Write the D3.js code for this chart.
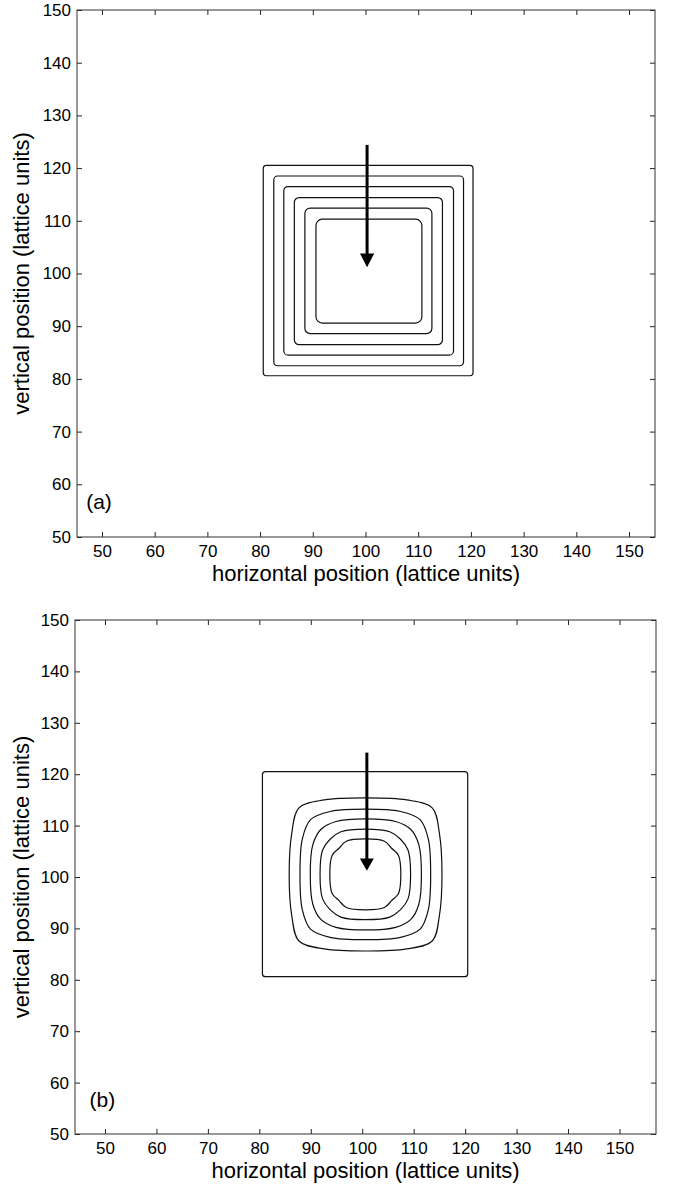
<!DOCTYPE html>
<html>
<head>
<meta charset="utf-8">
<script src="https://cdnjs.cloudflare.com/ajax/libs/d3/7.8.5/d3.min.js"></script>
<style>
body { margin: 0; background: #fff; }
text { font-family: "Liberation Sans", Arial, sans-serif; fill: #000; }
</style>
</head>
<body>
<div id="chart"></div>
<script>
// tick values (both panels)
var xTicks = [50, 60, 70, 80, 90, 100, 110, 120, 130, 140, 150];
var yTicks = [50, 60, 70, 80, 90, 100, 110, 120, 130, 140, 150];

// panel (a): nested rounded squares (lattice units)
var squareLeft   = [80.6, 82.6, 84.5, 86.5, 88.5, 90.6];
var squareRight  = [120.4, 118.6, 116.7, 114.6, 112.6, 110.7];
var squareBottom = [80.6, 82.5, 84.5, 86.5, 88.6, 90.6];
var squareTop    = [120.5, 118.5, 116.5, 114.4, 112.4, 110.3];
var squareRadius = [0.6, 0.7, 0.8, 0.9, 1.0, 1.2];

// panel (b): initial square plus relaxed contours
var frameB = [80.6, 120.5, 80.6, 120.5, 0.6];
var contour1 = [[115.5,100.5],[115.0,108.5],[113.6,113.45],[108.65,115.0],[100.65,115.4],[92.65,115.0],[87.7,113.45],[86.3,108.5],
                [85.8,100.5],[86.3,92.5],[87.7,87.55],[92.65,86.0],[100.65,85.6],[108.65,86.0],[113.6,87.55],[115.0,92.5]];
var contour2 = [[113.3,100.5],[112.85,107.35],[111.25,111.15],[107.45,112.75],[100.6,113.2],[93.75,112.75],[89.95,111.15],[88.35,107.35],
                [87.9,100.5],[88.35,93.65],[89.95,89.85],[93.75,88.25],[100.6,87.8],[107.45,88.25],[111.25,89.85],[112.85,93.65]];
var contour3 = [[111.5,100.5],[111.0,106.3],[109.45,109.25],[106.5,110.8],[100.7,111.3],[94.9,110.8],[91.95,109.25],[90.4,106.3],
                [89.9,100.5],[90.4,94.7],[91.95,91.75],[94.9,90.2],[100.7,89.7],[106.5,90.2],[109.45,91.75],[111.0,94.7]];
var contour4 = [[109.4,100.5],[108.9,105.25],[107.45,107.35],[105.35,108.8],[100.6,109.3],[95.85,108.8],[93.75,107.35],[92.3,105.25],
                [91.8,100.5],[92.3,95.75],[93.75,93.65],[95.85,92.2],[100.6,91.7],[105.35,92.2],[107.45,93.65],[108.9,95.75]];
var contour5 = [[107.5,100.5],[107.05,104.2],[105.7,105.6],[104.3,106.95],[100.6,107.4],[96.9,106.95],[95.5,105.6],[94.15,104.2],
                [93.7,100.5],[94.15,96.8],[95.5,95.4],[96.9,94.05],[100.6,93.6],[104.3,94.05],[105.7,95.4],[107.05,96.8]];

// arrows: x, start, head base, tip
var arrowX    = [100.3, 100.9];
var arrowTop  = [124.4, 124.2];
var arrowBase = [103.8, 103.6];
var arrowTip  = [101.2, 101.2];

var panelLabels = ["(a)", "(b)"];

var width = 675, height = 1184;

var svg = d3.select("#chart")
            .append("svg")
            .attr("width", width)
            .attr("height", height)
            .style("background", "#fff");

// panel boxes in pixels
var panels = [
    {left: 77, right: 655, top: 10, bottom: 537, xDomain: [45.26, 154.93]},
    {left: 75, right: 656, top: 620, bottom: 1134, xDomain: [44.17, 157.1]}
];

panels.forEach(function(p, i) {
    var x = d3.scaleLinear().domain(p.xDomain).range([p.left, p.right]);
    var y = d3.scaleLinear().domain([50, 150]).range([p.bottom, p.top]);
    var g = svg.append("g").attr("class", "panel");

    // axes with inward ticks
    g.append("g")
        .attr("transform", "translate(0," + p.bottom + ")")
        .call(d3.axisBottom(x).tickValues(xTicks).tickSize(-5).tickSizeOuter(0).tickPadding(8));
    g.append("g")
        .attr("transform", "translate(0," + p.top + ")")
        .call(d3.axisTop(x).tickValues(xTicks).tickSize(-5).tickSizeOuter(0).tickFormat(""));
    g.append("g")
        .attr("transform", "translate(" + p.left + ",0)")
        .call(d3.axisLeft(y).tickValues(yTicks).tickSize(-5).tickSizeOuter(0).tickPadding(6));
    g.append("g")
        .attr("transform", "translate(" + p.right + ",0)")
        .call(d3.axisRight(y).tickValues(yTicks).tickSize(-5).tickSizeOuter(0).tickFormat(""));

    g.selectAll(".domain").remove();
    g.selectAll(".tick line").attr("stroke", "#222").attr("stroke-width", 1);
    g.selectAll(".tick text").style("font-size", "17px").attr("fill", "#000");

    // box
    g.append("rect")
        .attr("x", p.left)
        .attr("y", p.top)
        .attr("width", p.right - p.left)
        .attr("height", p.bottom - p.top)
        .attr("fill", "none")
        .attr("stroke", "#333")
        .attr("stroke-width", 1);

    // axis titles
    g.append("text")
        .attr("x", (p.left + p.right) / 2)
        .attr("y", p.bottom + 44)
        .attr("text-anchor", "middle")
        .style("font-size", "22px")
        .text("horizontal position (lattice units)");

    g.append("text")
        .attr("transform", "translate(29," + ((p.top + p.bottom) / 2) + ") rotate(-90)")
        .attr("text-anchor", "middle")
        .style("font-size", "22px")
        .text("vertical position (lattice units)");

    // panel letter
    g.append("text")
        .attr("x", x(47))
        .attr("y", y(56.7))
        .attr("dy", "0.35em")
        .style("font-size", "21px")
        .text(panelLabels[i]);

    var k = x(1) - x(0);

    if (i == 0) {
        g.selectAll("rect.sq")
            .data(squareLeft)
            .enter()
            .append("rect")
            .attr("class", "sq")
            .attr("x", function(d) { return x(d); })
            .attr("y", function(d, j) { return y(squareTop[j]); })
            .attr("width", function(d, j) { return x(squareRight[j]) - x(d); })
            .attr("height", function(d, j) { return y(squareBottom[j]) - y(squareTop[j]); })
            .attr("rx", function(d, j) { return squareRadius[j] * k; })
            .attr("fill", "none")
            .attr("stroke", "#111")
            .attr("stroke-width", 1.2);
    } else {
        g.append("rect")
            .attr("x", x(frameB[0]))
            .attr("y", y(frameB[3]))
            .attr("width", x(frameB[1]) - x(frameB[0]))
            .attr("height", y(frameB[2]) - y(frameB[3]))
            .attr("rx", frameB[4] * k)
            .attr("fill", "none")
            .attr("stroke", "#111")
            .attr("stroke-width", 1.2);

        var line = d3.line()
            .x(function(d) { return x(d[0]); })
            .y(function(d) { return y(d[1]); })
            .curve(d3.curveCatmullRomClosed.alpha(0.5));

        g.selectAll("path.contour")
            .data([contour1, contour2, contour3, contour4, contour5])
            .enter()
            .append("path")
            .attr("class", "contour")
            .attr("d", line)
            .attr("fill", "none")
            .attr("stroke", "#111")
            .attr("stroke-width", 1.2);
    }

    // arrow
    g.append("line")
        .attr("x1", x(arrowX[i]))
        .attr("x2", x(arrowX[i]))
        .attr("y1", y(arrowTop[i]))
        .attr("y2", y(arrowBase[i]) + 1)
        .attr("stroke", "#000")
        .attr("stroke-width", 3);

    var hw = 1.35;
    g.append("path")
        .attr("d", "M" + x(arrowX[i] - hw) + "," + y(arrowBase[i]) +
                   "L" + x(arrowX[i] + hw) + "," + y(arrowBase[i]) +
                   "L" + x(arrowX[i]) + "," + y(arrowTip[i]) + "Z")
        .attr("fill", "#000");
});
</script>
</body>
</html>
